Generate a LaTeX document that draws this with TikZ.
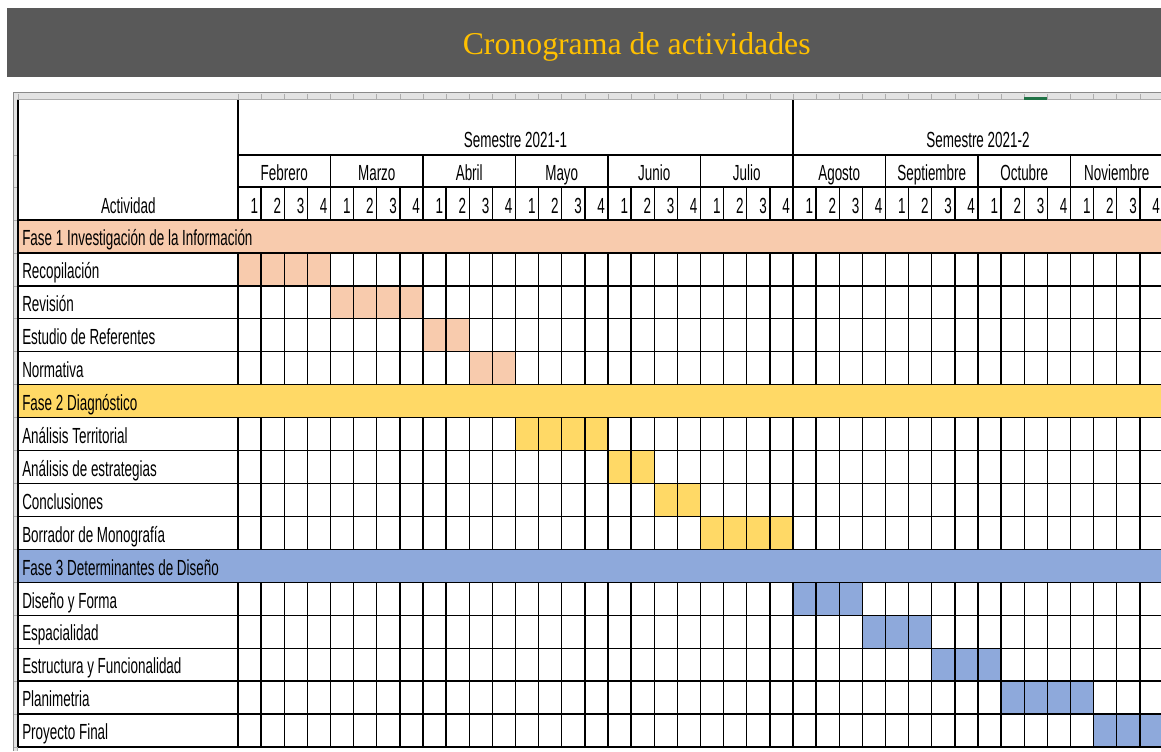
\documentclass[tikz,border=0pt]{standalone}
\usepackage{fontspec}
\newfontfamily\cellfont{Liberation Sans}[FakeStretch=0.615]
\newfontfamily\titlefont{Liberation Serif}
\definecolor{titlebg}{HTML}{595959}
\definecolor{titlefg}{HTML}{FFC000}
\definecolor{peach}{HTML}{F8CBAD}
\definecolor{amber}{HTML}{FFD966}
\definecolor{steel}{HTML}{8EA9DB}
\definecolor{xlgray}{HTML}{E3E3E3}
\definecolor{xldark}{HTML}{8A8A8A}
\definecolor{xlgreen}{HTML}{217346}
\begin{document}
\begin{tikzpicture}[x=0.75pt,y=-0.75pt,
  gridline/.style={black, line width=1pt},
  xlline/.style={xldark, line width=0.9pt},
  xltick/.style={xldark!70, line width=0.5pt},
  cell/.style={font=\cellfont\fontsize{16.4}{19}\selectfont, inner sep=0pt, text=black},
  titletext/.style={font=\titlefont\fontsize{23.85}{28}\selectfont, inner sep=0pt, text=titlefg}]
\useasboundingbox (0,0) rectangle (1161,751);
\clip (0,0) rectangle (1161,751);
\fill[white] (0,0) rectangle (1161,751);
% title bar
\fill[titlebg] (7,8) rectangle (1161,77);
\node[titletext, anchor=base, name=title] at (636.7,54) {Cronograma de actividades};
% Excel frame
\fill[xlgray] (13,92) rectangle (1161,100);
\fill[xlgray] (13,92) rectangle (18,751);
\draw[xlline] (13,92.5) -- (1161,92.5);
\draw[xlline] (13.5,92) -- (13.5,751);
\draw[xltick] (17,99.5) -- (1161,99.5);
\draw[xltick] (17.3,99) -- (17.3,751);
\foreach \k in {0,...,40} {
  \draw[xltick] ({238+\k*23.125},94) -- ({238+\k*23.125},99);
}
\draw[xltick] (18,94) -- (18,99);
\fill[xlgreen] (1024.3,96.5) rectangle (1047.4,100);
\foreach \i in {0,...,16} {
  \draw[xltick] (14,{220+\i*32.9375}) -- (17,{220+\i*32.9375});
}
\foreach \yy in {155,187} { \draw[xltick] (14,\yy) -- (17,\yy); }
% activity bars
\foreach \r/\a/\b/\c in {1/1/4/peach, 2/5/8/peach, 3/9/10/peach, 4/11/12/peach,
  6/13/16/amber, 7/17/18/amber, 8/19/20/amber, 9/21/24/amber,
  11/25/27/steel, 12/28/30/steel, 13/31/33/steel, 14/34/37/steel, 15/38/40/steel} {
  \fill[\c] ({238+(\a-1)*23.125},{220+\r*32.9375}) rectangle ({238+\b*23.125},{220+(\r+1)*32.9375});
}
% vertical week lines
\foreach \k in {0,...,40} {
  \draw[gridline] ({238+\k*23.125},187) -- ({238+\k*23.125},747);
}
% phase rows (merged)
\foreach \r/\c in {0/peach, 5/amber, 10/steel} {
  \fill[\c] (18,{220+\r*32.9375}) rectangle (1161,{220+(\r+1)*32.9375});
}
% horizontal lines
\foreach \i in {0,...,16} {
  \draw[gridline] (18,{220+\i*32.9375}) -- (1161,{220+\i*32.9375});
}
\draw[gridline] (238,155) -- (1161,155);
\draw[gridline] (238,187) -- (1161,187);
% header verticals
\draw[gridline] (18,99.5) -- (18,747);
\draw[gridline] (238,99.5) -- (238,220);
\draw[gridline] (793,99.5) -- (793,155);
\foreach \m in {0,...,10} {
  \draw[gridline] ({238+\m*92.5},155) -- ({238+\m*92.5},187);
}
% header texts
\node[cell, anchor=base, name=sem1] at (515.5,147.5) {Semestre 2021-1};
\node[cell, anchor=base, name=sem2] at (978,147.5) {Semestre 2021-2};
\node[cell, anchor=base, name=act] at (128.3,213.5) {Actividad};
\foreach \mn [count=\i from 0] in {Febrero, Marzo, Abril, Mayo, Junio, Julio, Agosto, Septiembre, Octubre, Noviembre} {
  \node[cell, anchor=base, name=mon\i] at ({238+\i*92.5+46.25},180.5) {\mn};
}
\foreach \k in {1,...,40} {
  \pgfmathtruncatemacro\wn{mod(\k-1,4)+1}
  \node[cell, anchor=base east, name=wk\k] at ({238+\k*23.125-2.8},213.5) {\wn};
}
% row labels
\foreach \lab [count=\i from 0] in {Fase 1 Investigación de la Información, Recopilación, Revisión, Estudio de Referentes, Normativa,
  Fase 2 Diagnóstico, Análisis Territorial, Análisis de estrategias, Conclusiones, Borrador de Monografía,
  Fase 3 Determinantes de Diseño, Diseño y Forma, Espacialidad, Estructura y Funcionalidad, Planimetria, Proyecto Final} {
  \node[cell, anchor=base west, name=row\i] at (22,{220+(\i+1)*32.9375-7.2}) {\lab};
}
\end{tikzpicture}
\end{document}
